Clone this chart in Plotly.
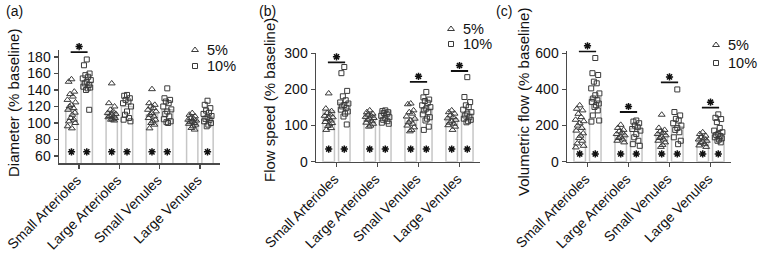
import plotly.graph_objects as go

W, H = 762, 254

categories = ["Small Arterioles", "Large Arterioles", "Small Venules", "Large Venules"]

# (a) Diameter (% baseline)
diam_5 = [
    [153, 150, 138, 135, 132, 128, 125, 122, 120, 118, 116, 112.5, 110, 106, 104, 102, 100, 96, 93.5],
    [148, 124, 120, 116, 114, 112, 111, 110, 108.5, 108, 107, 106, 104.5, 104, 103],
    [141, 124, 122, 120, 118, 116, 114, 112, 110, 108, 106, 104, 102, 100, 98, 93.5],
    [112, 110, 108, 106, 105, 104, 103, 102, 101, 100, 99, 98, 96, 94, 92],
]
diam_10 = [
    [177, 170, 160, 158, 156, 154, 152, 150, 148, 146, 144, 143, 142, 140, 116],
    [134, 133, 130, 128, 126, 124, 120, 114, 110, 106, 104, 102],
    [142, 130, 128, 126, 124, 120, 116.5, 114, 111, 108, 104.5, 102, 100, 101],
    [127, 122, 118, 115, 112.5, 111, 108.5, 107, 105, 104, 102, 100, 98, 96],
]
diam_bar_5 = [116, 112, 110, 103]
diam_bar_10 = [150, 120, 116, 108]
diam_ticks = [60, 80, 100, 120, 140, 160, 180]
diam_sig = [(0, 186)]
diam_star_5 = [True, True, True, False]
diam_star_10 = [True, True, True, True]

# (b) Flow speed (% baseline)
speed_5 = [
    [189, 147, 140, 135, 131, 127, 123, 121, 118, 114, 110, 107, 103, 99, 93, 88],
    [142, 137, 133, 130, 127, 124, 121, 119, 116, 112, 108, 105, 100, 97],
    [161, 159, 142, 137, 133, 125, 119, 114, 109, 105, 100, 95, 88, 84],
    [142, 137, 133, 128, 123, 120, 116, 112, 108, 105, 101, 97, 88],
]
speed_10 = [
    [262, 245, 196, 181, 170, 164, 161, 157, 153, 149, 144, 139, 133, 125, 103],
    [142, 140, 137, 135, 131, 127, 123, 120, 116, 112, 108, 105],
    [193, 178, 172, 168, 163, 156, 151, 147, 142, 137, 131, 123, 119, 114, 97, 88],
    [234, 179, 165, 156, 151, 144, 137, 133, 128, 123, 119, 116, 112, 109],
]
speed_bar_5 = [141, 130, 121, 119]
speed_bar_10 = [163, 140, 147, 133]
speed_ticks = [0, 100, 200, 300]
speed_sig = [(0, 275), (2, 221), (3, 251)]
speed_star_5 = [True, True, True, True]
speed_star_10 = [True, True, True, True]

# (c) Volumetric flow (% baseline)
vol_5 = [
    [312, 293, 284, 265, 247, 232, 224, 213, 200, 187, 172, 157, 144, 131, 116, 101, 88, 79],
    [204, 187, 176, 168, 161, 153, 146, 138, 131, 123, 116, 107],
    [260, 187, 176, 168, 161, 153, 146, 138, 131, 123, 116, 107, 93, 82],
    [163, 153, 144, 135, 129, 123, 116, 110, 105, 97, 90, 82],
]
vol_10 = [
    [574, 490, 480, 443, 434, 406, 378, 368, 350, 340, 331, 322, 312, 303, 284, 256, 228, 222],
    [228, 222, 213, 200, 191, 181, 172, 153, 135, 116, 97, 88],
    [400, 275, 256, 237, 228, 213, 200, 187, 176, 163, 135, 116, 97],
    [262, 243, 236, 219, 187, 172, 163, 153, 148, 142, 135, 129, 123, 116, 107],
]
vol_bar_5 = [180, 145, 150, 120]
vol_bar_10 = [357, 182, 194, 155]
vol_ticks = [0, 200, 400, 600]
vol_sig = [(0, 611), (1, 275), (2, 439), (3, 299)]
vol_star_5 = [True, True, True, True]
vol_star_10 = [True, True, True, True]

FONT = "Arial, Liberation Sans, sans-serif"
PT_COLOR = "#3a3a3a"
BAR_LINE = "#c6c6c6"
AX_COLOR = "#4a4a4a"
STAR_COLOR = "#111111"

panels = [
    dict(label="(a)", label_x=4, title="Diameter (% baseline)", title_x=14, title_y=103,
         d5=diam_5, d10=diam_10, b5=diam_bar_5, b10=diam_bar_10, ticks=diam_ticks,
         sig=diam_sig, s5=diam_star_5, s10=diam_star_10, star_y=65,
         yr=[51.5, 188], xpx=(59, 220), ypx=(50.4, 163),
         leg=(195, 50, 66)),
    dict(label="(b)", label_x=257, title="Flow speed (% baseline)", title_x=270, title_y=100,
         d5=speed_5, d10=speed_10, b5=speed_bar_5, b10=speed_bar_10, ticks=speed_ticks,
         sig=speed_sig, s5=speed_star_5, s10=speed_star_10, star_y=35,
         yr=[0, 300], xpx=(316, 480), ypx=(53.3, 161.7),
         leg=(451, 29, 44)),
    dict(label="(c)", label_x=494, title="Volumetric flow (% baseline)", title_x=524, title_y=102,
         d5=vol_5, d10=vol_10, b5=vol_bar_5, b10=vol_bar_10, ticks=vol_ticks,
         sig=vol_sig, s5=vol_star_5, s10=vol_star_10, star_y=43,
         yr=[0, 615], xpx=(567, 731), ypx=(50.6, 161.7),
         leg=(716, 45, 63)),
]

jit = [0.0, -0.07, 0.07, -0.035, 0.035, -0.1, 0.1, 0.0, -0.05, 0.05,
       -0.085, 0.085, 0.02, -0.02, 0.06, -0.06, 0.095, -0.095, 0.01]
OFF = 0.19
BW = 0.28

fig = go.Figure()
annotations = []
layout_axes = {}
sig_star_px = ([], [])

for k, p in enumerate(panels):
    n = "" if k == 0 else str(k + 1)
    xa, ya = "x" + n, "y" + n
    x0, x1 = p["xpx"]
    y0, y1 = p["ypx"]
    layout_axes["xaxis" + n] = dict(
        domain=[x0 / W, x1 / W], range=[-0.5, 3.5], anchor=ya, automargin=False,
        tickvals=[0, 1, 2, 3], ticktext=categories, tickangle=-45,
        ticks="outside", ticklen=4, tickwidth=1.3, tickcolor=AX_COLOR,
        ticklabelshift=-2, ticklabelstandoff=-2,
        showline=True, linecolor=AX_COLOR, linewidth=1.5,
        showgrid=False, zeroline=False,
        tickfont=dict(family=FONT, size=14, color="#111"))
    layout_axes["yaxis" + n] = dict(
        domain=[1 - y1 / H, 1 - y0 / H], range=p["yr"], anchor=xa, automargin=False,
        tickvals=p["ticks"], ticks="outside", ticklen=4, tickwidth=1.3,
        tickcolor=AX_COLOR, showline=True, linecolor=AX_COLOR, linewidth=1.5,
        showgrid=False, zeroline=False,
        tickfont=dict(family=FONT, size=14, color="#111"))

    ppu = (y1 - y0) / (p["yr"][1] - p["yr"][0])  # pixels per unit
    ppx = (x1 - x0) / 4.0                          # pixels per category

    # bars
    fig.add_trace(go.Bar(x=[i - OFF for i in range(4)], y=p["b5"], width=BW,
                         marker=dict(color="rgba(255,255,255,0)", line=dict(color=BAR_LINE, width=1.5)),
                         xaxis=xa, yaxis=ya, showlegend=False, hoverinfo="skip"))
    fig.add_trace(go.Bar(x=[i + OFF for i in range(4)], y=p["b10"], width=BW,
                         marker=dict(color="rgba(255,255,255,0)", line=dict(color=BAR_LINE, width=1.5)),
                         xaxis=xa, yaxis=ya, showlegend=False, hoverinfo="skip"))

    # points
    for data, off, sym, sz in ((p["d5"], -OFF, "triangle-up-open", 6), (p["d10"], OFF, "square-open", 5)):
        xs, ys = [], []
        for i, grp in enumerate(data):
            for j, v in enumerate(grp):
                xs.append(i + off + jit[j % len(jit)])
                ys.append(v)
        fig.add_trace(go.Scatter(x=xs, y=ys, mode="markers", xaxis=xa, yaxis=ya,
                                 marker=dict(symbol=sym, size=sz, color=PT_COLOR, line=dict(width=1, color=PT_COLOR)),
                                 showlegend=False, cliponaxis=False))

    # bottom asterisks
    sx, sy = [], []
    for i in range(4):
        if p["s5"][i]:
            sx.append(i - OFF); sy.append(p["star_y"])
        if p["s10"][i]:
            sx.append(i + OFF); sy.append(p["star_y"])
    fig.add_trace(go.Scatter(x=sx, y=sy, mode="markers", xaxis=xa, yaxis=ya,
                             marker=dict(symbol="asterisk-open", size=6, color=STAR_COLOR,
                                         line=dict(width=1.5, color=STAR_COLOR)),
                             showlegend=False, cliponaxis=False, hoverinfo="skip"))

    # significance bars (line in data space, star placed on the overlay pixel axis)
    for (ci, yv) in p["sig"]:
        fig.add_trace(go.Scatter(x=[ci - OFF - 0.02, ci + OFF + 0.02], y=[yv, yv], mode="lines",
                                 line=dict(color=STAR_COLOR, width=1.8), xaxis=xa, yaxis=ya,
                                 showlegend=False, cliponaxis=False, hoverinfo="skip"))
        sig_star_px[0].append(x0 + (ci + 0.5) * ppx)
        sig_star_px[1].append(y1 - (yv - p["yr"][0]) * ppu - 5.5)

    # panel label
    annotations.append(dict(text=p["label"], x=p["label_x"] / W, y=1 - 11 / H, xref="paper", yref="paper",
                            xanchor="left", yanchor="middle", showarrow=False,
                            font=dict(family=FONT, size=14, color="#111")))
    # axis title
    annotations.append(dict(text=p["title"], x=p["title_x"] / W, y=1 - p["title_y"] / H, xref="paper", yref="paper",
                            xanchor="center", yanchor="middle", textangle=-90, showarrow=False,
                            font=dict(family=FONT, size=15, color="#111")))
    # legend text
    lx, ly5, ly10 = p["leg"]
    annotations.append(dict(text="5%", x=(lx + 11) / W, y=1 - ly5 / H, xref="paper", yref="paper",
                            xanchor="left", yanchor="middle", showarrow=False, borderpad=0,
                            font=dict(family=FONT, size=14.5, color="#111")))
    annotations.append(dict(text="10%", x=(lx + 11) / W, y=1 - ly10 / H, xref="paper", yref="paper",
                            xanchor="left", yanchor="middle", showarrow=False, borderpad=0,
                            font=dict(family=FONT, size=14.5, color="#111")))
    # legend symbols on overlay axis (pixel coordinates)
    fig.add_trace(go.Scatter(x=[lx], y=[ly5], mode="markers", xaxis="x4", yaxis="y4",
                             marker=dict(symbol="triangle-up-open", size=6, color=PT_COLOR, line=dict(width=1, color=PT_COLOR)),
                             showlegend=False, hoverinfo="skip"))
    fig.add_trace(go.Scatter(x=[lx], y=[ly10], mode="markers", xaxis="x4", yaxis="y4",
                             marker=dict(symbol="square-open", size=5, color=PT_COLOR, line=dict(width=1, color=PT_COLOR)),
                             showlegend=False, hoverinfo="skip"))

# significance stars (overlay pixel axis so nothing is clipped)
fig.add_trace(go.Scatter(x=sig_star_px[0], y=sig_star_px[1], mode="markers", xaxis="x4", yaxis="y4",
                         marker=dict(symbol="asterisk-open", size=6, color=STAR_COLOR,
                                     line=dict(width=1.5, color=STAR_COLOR)),
                         showlegend=False, cliponaxis=False, hoverinfo="skip"))

layout_axes["xaxis4"] = dict(domain=[0, 1], range=[0, W], anchor="y4", visible=False,
                             fixedrange=True, automargin=False)
layout_axes["yaxis4"] = dict(domain=[0, 1], range=[H, 0], anchor="x4", visible=False,
                             fixedrange=True, automargin=False)

fig.update_layout(
    width=W, height=H, autosize=False,
    margin=dict(l=0, r=0, t=0, b=0, autoexpand=False),
    paper_bgcolor="white", plot_bgcolor="rgba(0,0,0,0)",
    barmode="overlay", showlegend=False, hovermode=False,
    font=dict(family=FONT, color="#111"),
    annotations=annotations,
    **layout_axes,
)

fig.write_html("out.html",
               config={"displayModeBar": False, "staticPlot": True},
               post_script="document.body.style.margin='0';document.body.style.padding='0';")
